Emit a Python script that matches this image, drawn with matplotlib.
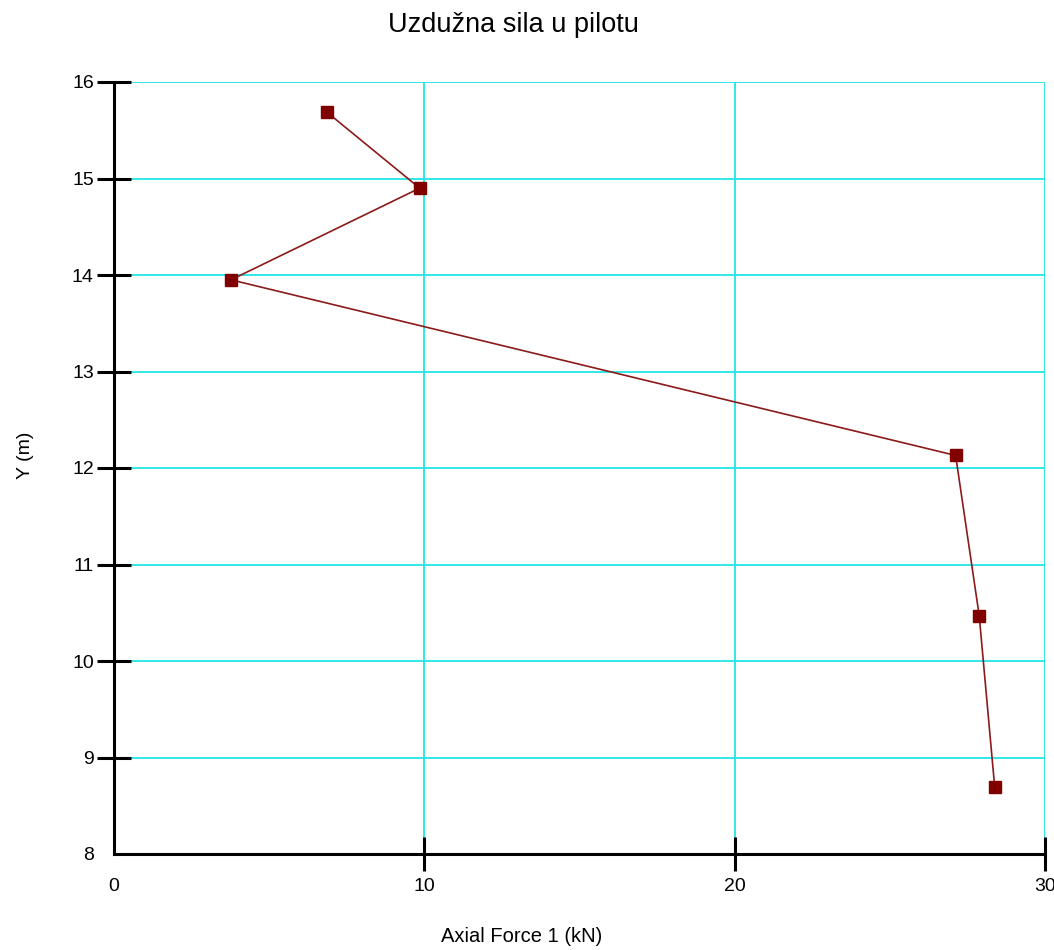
import matplotlib
matplotlib.use("Agg")
import matplotlib.pyplot as plt

plt.rcParams["font.family"] = ["Liberation Sans", "DejaVu Sans"]

# Values
axial_force = [6.85, 9.85, 3.77, 27.12, 27.88, 28.38]
y_m = [15.69, 14.90, 13.95, 12.13, 10.47, 8.69]

x_ticks = [0, 10, 20, 30]
y_ticks = [8, 9, 10, 11, 12, 13, 14, 15, 16]

W, H = 1054, 950
fig = plt.figure(figsize=(W / 100, H / 100), dpi=100)
ax = fig.add_axes([114 / W, 1 - 854 / H, (1045 - 114) / W, (854 - 82) / H])

ax.plot(axial_force, y_m, color="#8b1a1a", lw=1.2, marker="s", ms=9,
        mfc="#800000", mec="#800000", zorder=3, clip_on=False)

ax.set_xlim(0, 30)
ax.set_ylim(8, 16)
ax.set_xticks(x_ticks)
ax.set_yticks(y_ticks)
ax.grid(True, color="#22e5e5", lw=1.3, zorder=0)
ax.set_axisbelow(True)

for s in ("top", "right"):
    ax.spines[s].set_visible(False)
for s in ("left", "bottom"):
    ax.spines[s].set_linewidth(2.2)

ax.tick_params(direction="inout", length=25, width=2.2, labelsize=14)
ax.tick_params(axis="x", pad=5)
ax.tick_params(axis="y", pad=2)
# no tick marks at the corner
ax.xaxis.get_major_ticks()[0].tick1line.set_visible(False)
ax.yaxis.get_major_ticks()[0].tick1line.set_visible(False)

fig.text(513 / W, 1 - 25 / H, "Uzdužna sila u pilotu", fontsize=19.5,
         ha="center", va="center")
fig.text(522 / W, 1 - 937 / H, "Axial Force 1 (kN)", fontsize=14.5,
         ha="center", va="center")
fig.text(25 / W, 1 - 455 / H, "Y (m)", fontsize=14, rotation=90,
         ha="center", va="center")

fig.savefig("out.png", dpi=100)
